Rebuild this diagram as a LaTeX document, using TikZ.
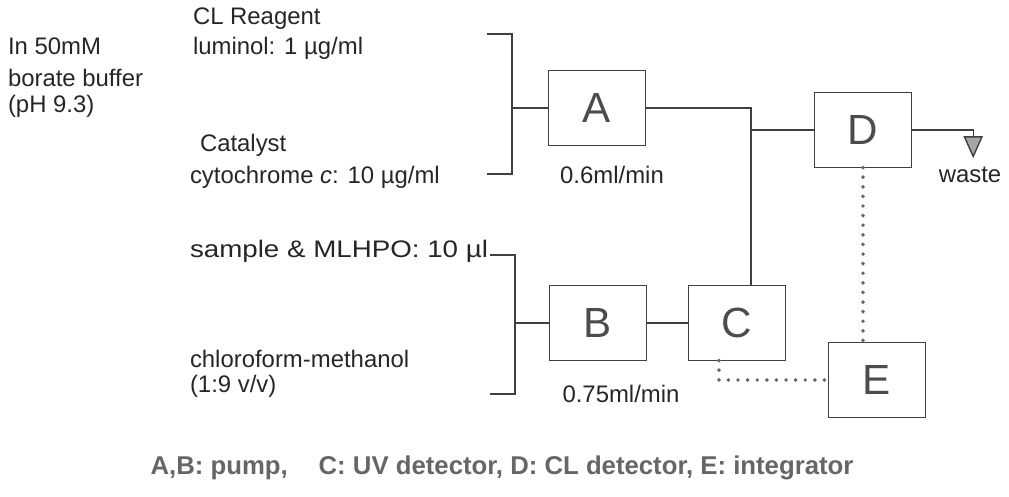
\documentclass[tikz,border=0pt]{standalone}
\usepackage{fontspec}
\setmainfont{Liberation Sans}
\usetikzlibrary{arrows.meta,positioning}

\begin{document}
\begin{tikzpicture}[x=0.025cm, y=-0.025cm,
    every node/.style={inner sep=0pt, outer sep=0pt},
    pipe/.style={draw=black!75, line width=1pt},
    unit/.style={draw=black!75, line width=1pt, minimum width=2.42cm, minimum height=1.88cm,
                 font=\fontsize{30}{30}\selectfont, text=black!70},
    lbl/.style={anchor=base west, font=\fontsize{17}{20}\selectfont, text=black!85},
    sig/.style={draw=black!60, line width=2.8pt, line cap=round, dash pattern=on 0pt off 0.24cm}]
    \useasboundingbox (0,0) rectangle (1009,497);

    % Reagent stream
    \node[lbl] (cl) at (193,25) {CL Reagent};
    \node[lbl] (lum) at (193,55) {luminol: 1 µg/ml};
    \node[lbl] (buf1) at (8,55) {In 50mM};
    \node[lbl] (buf2) at (8,87) {borate buffer};
    \node[lbl] (buf3) at (8,113) {(pH 9.3)};
    \node[lbl] (cat) at (200,152) {Catalyst};
    \node[lbl] (cyt) at (190,184) {cytochrome \textit{c}: 10 µg/ml};

    % Sample stream
    \node[lbl] (smp) at (190,258) {\addfontfeatures{FakeStretch=1.16}sample \& MLHPO: 10 µl};
    \node[lbl] (sol1) at (190,368) {chloroform-methanol};
    \node[lbl] (sol2) at (190,393) {(1:9 v/v)};

    % Units
    \node[unit] (A) at (597,108) {A};
    \node[unit] (B) at (598,323) {B};
    \node[unit] (C) at (737,323) {C};
    \node[unit] (D) at (863,130) {D};
    \node[unit] (E) at (877,380) {E};

    % Flow rates
    \node[lbl, anchor=base] (fa) at (612,184) {0.6ml/min};
    \node[lbl, anchor=base] (fb) at (621,403) {0.75ml/min};
    \node[lbl, anchor=north] (waste) at (970,167) {waste};

    % Brackets
    \coordinate (a1) at (487,34);
    \coordinate (a2) at (487,174);
    \coordinate (b1) at (490,255);
    \coordinate (b2) at (490,394);
    \draw[pipe] (a1) -- (512,34) -- (512,174) -- (a2);
    \draw[pipe] (512,108) -- (A.west);
    \draw[pipe] (b1) -- (515,255) -- (515,394) -- (b2);
    \draw[pipe] (515,323) -- (B.west);

    % Tubing
    \coordinate (tee) at (751,130);
    \draw[pipe] (A.east) -| (tee |- C.north);
    \draw[pipe] (tee) -- (D.west);
    \draw[pipe] (B.east) -- (C.west);
    \draw[pipe, -{Triangle[length=0.55cm, width=0.48cm, fill=black!35]}] (D.east) -| ([xshift=0.08cm, yshift=0.22cm]waste.north);

    % Signal lines
    \draw[sig] (D.south) -- (D.south |- E.north);
    \draw[sig] ([xshift=-0.45cm]C.south) |- (E.west);

    % Key
    \node[anchor=base, font=\bfseries\fontsize{18.3}{22}\selectfont, text=black!60] (key) at (502,475)
        {A,B: pump,\hspace{1.2em}C: UV detector, D: CL detector, E: integrator};
\end{tikzpicture}
\end{document}
